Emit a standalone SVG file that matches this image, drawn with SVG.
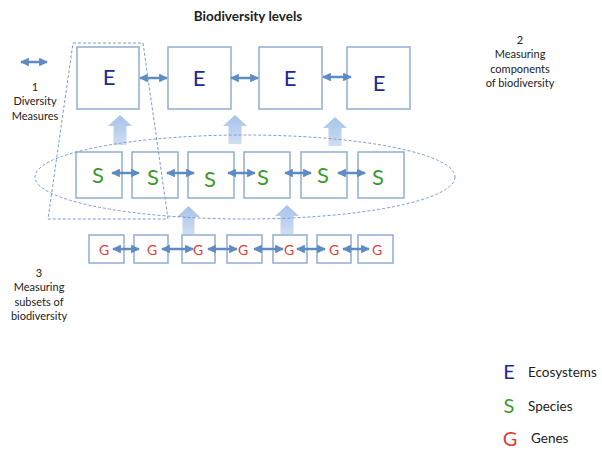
<svg xmlns="http://www.w3.org/2000/svg" width="602" height="451" viewBox="0 0 602 451">
<defs>
<marker id="ah" viewBox="0 0 10 10" refX="9" refY="5" markerWidth="3.5" markerHeight="3.5" orient="auto-start-reverse" markerUnits="strokeWidth">
<path d="M0,0 L10,5 L0,10 Z" fill="#5E8CC2"/>
</marker>
<linearGradient id="bg" x1="0" y1="0" x2="0" y2="1">
<stop offset="0" stop-color="#A5C3EA"/>
<stop offset="1" stop-color="#CFDDF1"/>
</linearGradient>
<style>
.box{fill:#fff;stroke:#92ADD2;stroke-width:1.5}
.con{stroke:#5E8CC2;stroke-width:2.5;fill:none;marker-start:url(#ah);marker-end:url(#ah)}
.blk{fill:url(#bg);stroke:none}
.dash{fill:none;stroke:#7E9CC8;stroke-width:1;stroke-dasharray:3,2}
.t{font-family:Lato,"Liberation Sans",sans-serif;fill:#222}
.e{font-family:Lato,"Liberation Sans",sans-serif;fill:#1C2A96;font-size:22px;text-anchor:middle}
.s{font-family:Lato,"Liberation Sans",sans-serif;fill:#3C9A2E;font-size:22px;text-anchor:middle}
.g{font-family:Lato,"Liberation Sans",sans-serif;fill:#E23B36;font-size:14px;text-anchor:middle}
</style>
</defs>
<rect width="602" height="451" fill="#fff"/>
<text class="t" x="248" y="21" font-size="13.5" font-weight="bold" text-anchor="middle">Biodiversity levels</text>
<g id="label1" class="t" font-size="11" text-anchor="middle">
<text x="35" y="91">1</text>
<text x="35" y="105">Diversity</text>
<text x="35" y="120">Measures</text>
</g>
<g id="label2" class="t" font-size="11" text-anchor="middle">
<text x="520" y="44">2</text>
<text x="520" y="58">Measuring</text>
<text x="520" y="73">components</text>
<text x="520" y="87">of biodiversity</text>
</g>
<g id="label3" class="t" font-size="11" text-anchor="middle">
<text x="39" y="277">3</text>
<text x="39" y="291">Measuring</text>
<text x="39" y="306">subsets of</text>
<text x="39" y="320">biodiversity</text>
</g>
<g id="blockarrows">
<polygon class="blk" points="120,115 132,126 126.5,126 126.5,145 113.5,145 113.5,126 108,126"/>
<polygon class="blk" points="235,115 247,126 241.5,126 241.5,144 228.5,144 228.5,126 223,126"/>
<polygon class="blk" points="335,117 347,128 341.5,128 341.5,146 328.5,146 328.5,128 323,128"/>
<polygon class="blk" points="188.5,206 200,217 194.5,217 194.5,234 182.5,234 182.5,217 177,217"/>
<polygon class="blk" points="287,205 299,216 293.5,216 293.5,234 280.5,234 280.5,216 275,216"/>
</g>
<g id="E1"><rect class="box" x="77" y="47" width="62" height="62"/><text class="e" x="109" y="85">E</text></g>
<g id="E2"><rect class="box" x="168" y="47" width="63" height="62"/><text class="e" x="199" y="86">E</text></g>
<g id="E3"><rect class="box" x="259" y="47" width="63" height="62"/><text class="e" x="290" y="86">E</text></g>
<g id="E4"><rect class="box" x="347" y="47" width="63" height="62"/><text class="e" x="379" y="91">E</text></g>
<g id="S1"><rect class="box" x="76" y="152" width="46" height="46"/><text class="s" x="98" y="183">S</text></g>
<g id="S2"><rect class="box" x="132" y="152" width="46" height="46"/><text class="s" x="153" y="185">S</text></g>
<g id="S3"><rect class="box" x="188" y="152" width="46" height="46"/><text class="s" x="210" y="187">S</text></g>
<g id="S4"><rect class="box" x="244" y="152" width="46" height="46"/><text class="s" x="263" y="185">S</text></g>
<g id="S5"><rect class="box" x="301" y="152" width="46" height="46"/><text class="s" x="323" y="183">S</text></g>
<g id="S6"><rect class="box" x="358" y="152" width="46" height="46"/><text class="s" x="378" y="185">S</text></g>
<g id="G1"><rect class="box" x="89" y="235" width="35" height="28"/><text class="g" x="104" y="255">G</text></g>
<g id="G2"><rect class="box" x="134" y="235" width="34" height="28"/><text class="g" x="152" y="255">G</text></g>
<g id="G3"><rect class="box" x="182" y="235" width="33" height="28"/><text class="g" x="198" y="255">G</text></g>
<g id="G4"><rect class="box" x="227" y="235" width="35" height="28"/><text class="g" x="243" y="255">G</text></g>
<g id="G5"><rect class="box" x="273" y="235" width="34" height="28"/><text class="g" x="289" y="255">G</text></g>
<g id="G6"><rect class="box" x="317" y="235" width="34" height="28"/><text class="g" x="334" y="255">G</text></g>
<g id="G7"><rect class="box" x="358" y="235" width="35" height="28"/><text class="g" x="377" y="255">G</text></g>
<g id="connectors">
<line class="con" x1="21" y1="62" x2="47" y2="62"/>
<line class="con" x1="140" y1="78" x2="167" y2="78"/>
<line class="con" x1="231" y1="78" x2="258" y2="78"/>
<line class="con" x1="323" y1="77" x2="351" y2="77"/>
<line class="con" x1="112" y1="173" x2="139" y2="173"/>
<line class="con" x1="167" y1="173" x2="194" y2="173"/>
<line class="con" x1="228" y1="173" x2="255" y2="173"/>
<line class="con" x1="285" y1="173" x2="311" y2="173"/>
<line class="con" x1="338" y1="173" x2="365" y2="173"/>
<line class="con" x1="113" y1="249" x2="139" y2="249"/>
<line class="con" x1="162" y1="249" x2="193" y2="249"/>
<line class="con" x1="208" y1="249" x2="237" y2="249"/>
<line class="con" x1="254" y1="249" x2="283" y2="249"/>
<line class="con" x1="297" y1="249" x2="325" y2="249"/>
<line class="con" x1="343" y1="249" x2="369" y2="249"/>
</g>
<g id="groupings">
<ellipse class="dash" cx="245" cy="177" rx="210" ry="42"/>
<polygon class="dash" points="73,43 143,43 168,219 48,219"/>
</g>
<g id="legend">
<text x="509" y="379" font-family="Lato,'Liberation Sans',sans-serif" font-size="20" fill="#1C2A96" text-anchor="middle">E</text>
<text class="t" x="528" y="377" font-size="13.5">Ecosystems</text>
<text x="509" y="413" font-family="Lato,'Liberation Sans',sans-serif" font-size="20" fill="#3C9A2E" text-anchor="middle">S</text>
<text class="t" x="528" y="411" font-size="13.5">Species</text>
<text x="510" y="446" font-family="Lato,'Liberation Sans',sans-serif" font-size="20" fill="#E23B36" text-anchor="middle">G</text>
<text class="t" x="531" y="443" font-size="13.5">Genes</text>
</g>
</svg>
